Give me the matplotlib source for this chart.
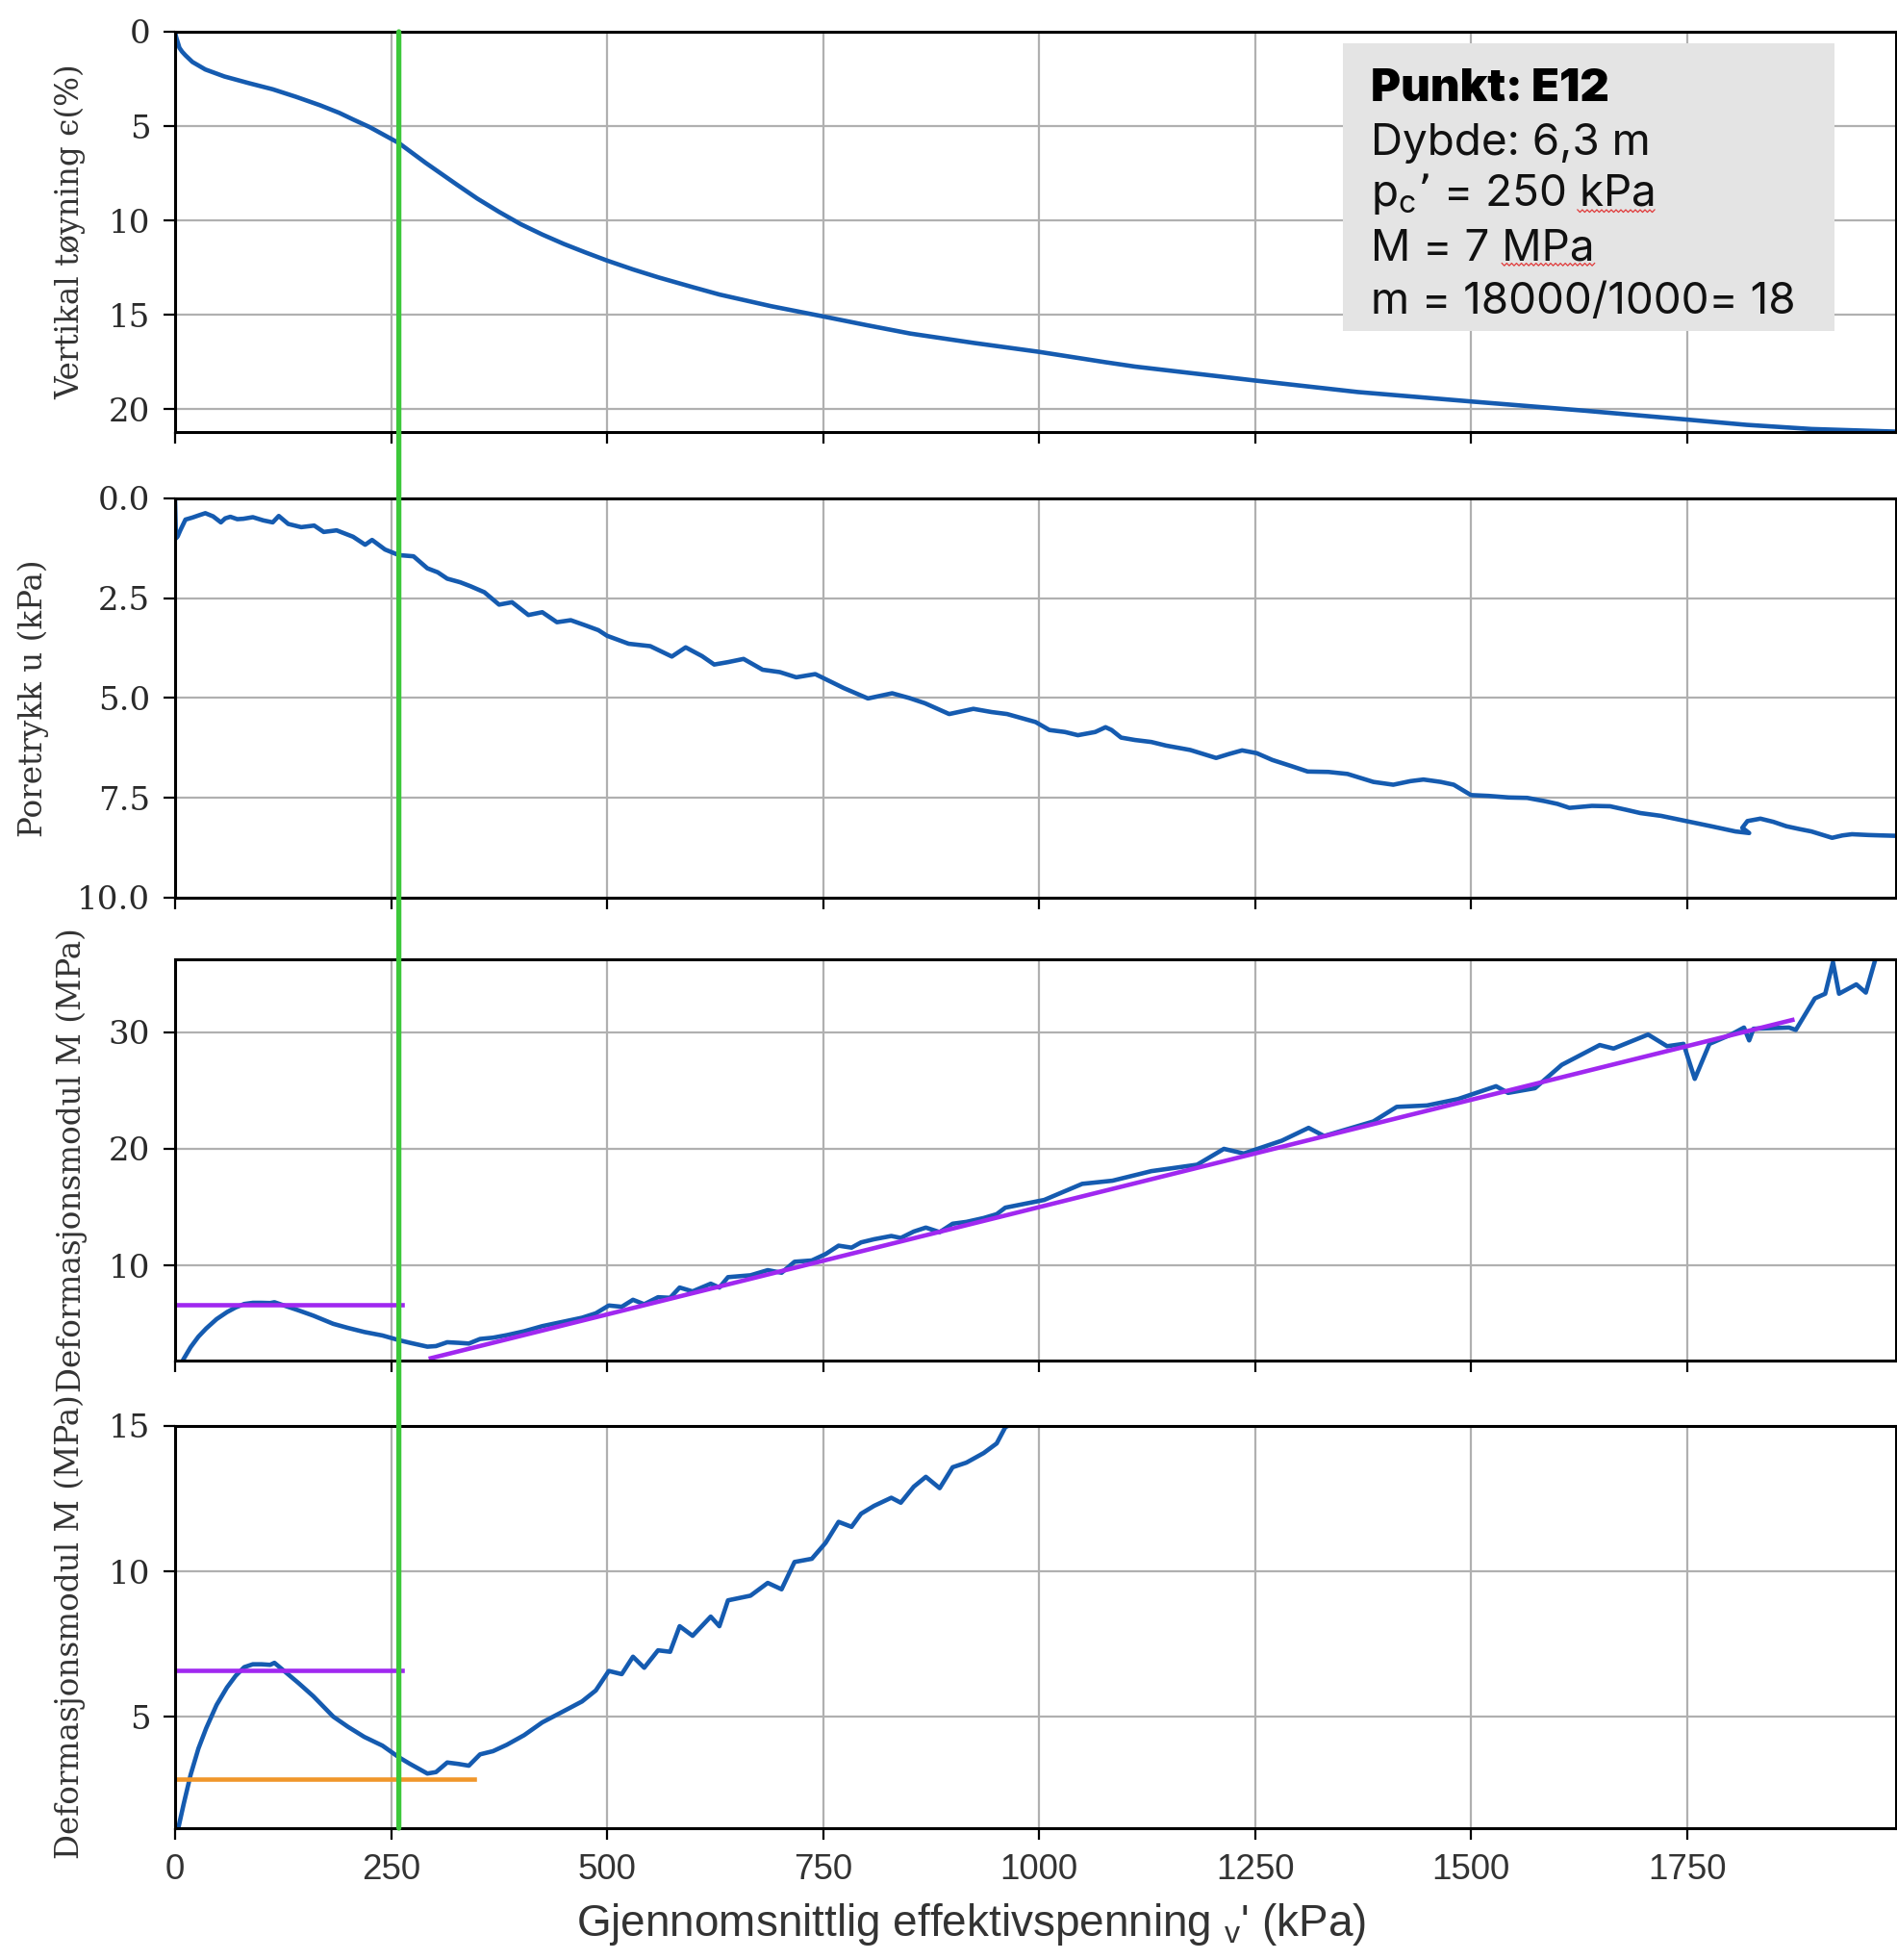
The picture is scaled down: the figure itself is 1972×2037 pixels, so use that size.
import numpy as np
import matplotlib
matplotlib.use("Agg")
import matplotlib.pyplot as plt
from matplotlib.patches import Rectangle, ConnectionPatch
from matplotlib.lines import Line2D
from matplotlib.ticker import FormatStrFormatter

plt.rcParams["mathtext.default"] = "regular"

# ---- Oedometer test E12: vertical strain vs effective stress ----
eps_sigma = [0, 1, 3, 5, 8, 12, 20, 35, 57, 85, 113, 140, 168, 190, 206, 225,
             243, 259, 290, 326, 350, 375, 400, 425, 450, 475, 500, 530, 560,
             600, 630, 690, 750, 800, 851, 925, 1000, 1077, 1111, 1250, 1369,
             1500, 1632, 1750, 1819, 1894, 1992]
eps_values = [0.0, 0.25, 0.55, 0.85, 1.05, 1.25, 1.6, 2.0, 2.37, 2.72, 3.05,
              3.45, 3.9, 4.3, 4.65, 5.05, 5.5, 5.9, 6.95, 8.1, 8.85, 9.55,
              10.2, 10.75, 11.25, 11.7, 12.13, 12.6, 13.03, 13.55, 13.93,
              14.55, 15.09, 15.55, 16.0, 16.5, 16.97, 17.52, 17.75, 18.49,
              19.1, 19.6, 20.09, 20.56, 20.84, 21.06, 21.2]

# ---- Pore pressure ----
u_sigma = [0, 1, 3, 6, 12, 20, 28, 35, 44, 53, 58, 64, 72, 79, 90, 102, 113,
           120, 131, 146, 161, 172, 187, 206, 220, 228, 243, 259, 276, 292,
           304, 315, 330, 342, 358, 375, 390, 409, 425, 442, 458, 475, 490,
           500, 525, 550, 575, 591, 610, 624, 640, 658, 680, 700, 719, 741,
           774, 802, 830, 850, 868, 896, 924, 945, 963, 996, 1012, 1030, 1045,
           1065, 1077, 1084, 1095, 1111, 1130, 1147, 1175, 1205, 1220, 1235,
           1252, 1270, 1293, 1311, 1335, 1357, 1387, 1410, 1430, 1445, 1465,
           1480, 1500, 1520, 1544, 1565, 1585, 1600, 1614, 1640, 1661, 1680,
           1696, 1720, 1749, 1778, 1806, 1822, 1814, 1820, 1835, 1850, 1865,
           1880, 1894, 1918, 1930, 1941, 1960, 1975, 1992]
u_values = [0.1, 1.0, 0.95, 0.8, 0.53, 0.48, 0.42, 0.37, 0.45, 0.6, 0.5,
            0.46, 0.52, 0.51, 0.47, 0.55, 0.6, 0.44, 0.64, 0.72, 0.68, 0.84,
            0.8, 0.96, 1.16, 1.04, 1.28, 1.42, 1.45, 1.75, 1.85, 2.01, 2.1,
            2.2, 2.35, 2.66, 2.6, 2.92, 2.85, 3.1, 3.05, 3.18, 3.3, 3.44,
            3.64, 3.7, 3.96, 3.73, 3.95, 4.16, 4.1, 4.02, 4.29, 4.35, 4.48,
            4.4, 4.75, 5.01, 4.88, 5.0, 5.13, 5.4, 5.27, 5.35, 5.4, 5.6, 5.8,
            5.85, 5.93, 5.85, 5.73, 5.8, 5.99, 6.05, 6.1, 6.19, 6.3, 6.5,
            6.4, 6.31, 6.38, 6.55, 6.71, 6.84, 6.85, 6.9, 7.1, 7.17, 7.08,
            7.04, 7.1, 7.17, 7.43, 7.45, 7.49, 7.5, 7.58, 7.65, 7.75, 7.7,
            7.71, 7.8, 7.88, 7.95, 8.08, 8.21, 8.34, 8.38, 8.25, 8.08, 8.02,
            8.1, 8.21, 8.28, 8.34, 8.5, 8.44, 8.41, 8.43, 8.44, 8.45]

# ---- Constrained modulus M ----
M_sigma = [4, 10, 18, 27, 36, 48, 60, 70, 80, 90, 100, 110, 115, 125, 143,
           160, 183, 200, 219, 240, 259, 272, 292, 302, 315, 328, 340, 353,
           368, 384, 404, 425, 450, 471, 487, 502, 517, 530, 543, 559, 573,
           584, 599, 620, 630, 640, 666, 686, 702, 717, 737, 753, 768, 783,
           794, 809, 829, 840, 855, 869, 885, 900, 916, 936, 951, 961, 1006,
           1050, 1085, 1130, 1183, 1214, 1237, 1281, 1312, 1330, 1387, 1414,
           1449, 1485, 1529, 1543, 1574, 1605, 1649, 1665, 1705, 1727, 1746,
           1759, 1776, 1801, 1816, 1822, 1827, 1868, 1876, 1898, 1910, 1919,
           1926, 1946, 1957, 1969, 1975]
M_values = [1.2, 2.0, 3.0, 3.9, 4.6, 5.4, 6.0, 6.4, 6.7, 6.8, 6.8, 6.78,
            6.85, 6.6, 6.15, 5.7, 5.0, 4.65, 4.3, 4.0, 3.6, 3.37, 3.04, 3.09,
            3.42, 3.37, 3.31, 3.7, 3.81, 4.03, 4.36, 4.8, 5.19, 5.52, 5.9,
            6.57, 6.46, 7.06, 6.68, 7.28, 7.23, 8.11, 7.78, 8.44, 8.11, 9.0,
            9.16, 9.6, 9.38, 10.32, 10.43, 10.98, 11.7, 11.53, 11.98, 12.25,
            12.53, 12.36, 12.91, 13.25, 12.86, 13.58, 13.74, 14.07, 14.4,
            14.96, 15.62, 17.0, 17.27, 18.09, 18.64, 20.0, 19.6, 20.7, 21.8,
            21.1, 22.35, 23.6, 23.72, 24.27, 25.37, 24.8, 25.2, 27.2, 28.9,
            28.6, 29.8, 28.8, 29.0, 26.0, 29.0, 29.8, 30.4, 29.3, 30.3, 30.4,
            30.2, 32.9, 33.3, 36.0, 33.3, 34.1, 33.4, 36.5, 38.0]

# Interpretation lines
pc_stress = 259                 # preconsolidation stress (kPa)
M_oc = 6.6                      # modulus in the overconsolidated range (MPa)
M_oc_sigma = [0, 263]
M_min = 2.85                    # minimum modulus (MPa)
M_min_sigma = [0, 346]
m_fit_sigma = [296, 1872]       # linear modulus fit, m = 18
m_fit_M = [2.05, 31.05]

x_ticks = [0, 250, 500, 750, 1000, 1250, 1500, 1750]
eps_ticks = [0, 5, 10, 15, 20]
u_ticks = [0.0, 2.5, 5.0, 7.5, 10.0]
M_ticks_top = [10, 20, 30]
M_ticks_bottom = [5, 10, 15]

info_title = "Punkt: E12"
info_lines = ["Dybde: 6,3 m", "p$_{c}$\u2019 = 250 kPa", "M = 7 MPa",
              "m = 18000/1000= 18"]
flagged_words = {1: "kPa", 2: "MPa"}   # words carrying a spell-check squiggle

BLUE = "#155bb0"
GREEN = "#3cc83a"
PURPLE = "#a028f0"
ORANGE = "#f0962a"
GRID = "#b0b0b0"
TXT = "#333333"
LW = 3.3
INFO_SIZE = 33

fig = plt.figure(figsize=(19.72, 20.37), dpi=100)
left, width = 0.0923, 0.9072
boxes = [(0.77958, 0.20422), (0.54198, 0.20373), (0.30584, 0.20471),
         (0.06726, 0.20520)]
axes = [fig.add_axes([left, b, width, h]) for b, h in boxes]
ax1, ax2, ax3, ax4 = axes

for ax in axes:
    ax.set_xlim(0, 1992)
    ax.set_xticks(x_ticks)
    ax.set_axisbelow(True)
    ax.grid(True, color=GRID, lw=1.6)
    for s in ax.spines.values():
        s.set_linewidth(2.2)
        s.set_color("black")
    ax.tick_params(direction="out", length=8.5, width=1.6, color="black",
                   pad=10, labelcolor="#2a2a2a")

for ax in axes[:3]:
    ax.tick_params(axis="x", labelbottom=False)

# Panel 1: strain
ax1.plot(eps_sigma, eps_values, color=BLUE, lw=LW)
ax1.set_ylim(21.22, 0)
ax1.set_yticks(eps_ticks)

# Panel 2: pore pressure
ax2.plot(u_sigma, u_values, color=BLUE, lw=LW)
ax2.set_ylim(10, 0)
ax2.set_yticks(u_ticks)
ax2.yaxis.set_major_formatter(FormatStrFormatter("%.1f"))

# Panel 3: modulus, full range
ax3.plot(M_sigma, M_values, color=BLUE, lw=LW)
ax3.plot(M_oc_sigma, [M_oc, M_oc], color=PURPLE, lw=LW)
ax3.plot(m_fit_sigma, m_fit_M, color=PURPLE, lw=LW)
ax3.set_ylim(1.85, 36.25)
ax3.set_yticks(M_ticks_top)

# Panel 4: modulus, zoomed
ax4.plot(M_sigma, M_values, color=BLUE, lw=LW)
ax4.plot(M_oc_sigma, [M_oc, M_oc], color=PURPLE, lw=LW)
ax4.plot(M_min_sigma, [M_min, M_min], color=ORANGE, lw=LW)
ax4.set_ylim(1.16, 15)
ax4.set_yticks(M_ticks_bottom)

for ax in axes:
    for lab in ax.get_yticklabels():
        lab.set_family("DejaVu Serif")
        lab.set_fontsize(24.5)
for lab in ax4.get_xticklabels():
    lab.set_family("Liberation Sans")
    lab.set_fontsize(26.5)
    lab.set_color("#333333")

ylabel_kw = dict(family="DejaVu Serif", fontsize=23.5, color=TXT)
ax1.set_ylabel("Vertikal tøyning ϵ(%)", **ylabel_kw)
ax2.set_ylabel("Poretrykk u (kPa)", **ylabel_kw)
ax3.set_ylabel("Deformasjonsmodul M (MPa)", **ylabel_kw)
ax4.set_ylabel("Deformasjonsmodul M (MPa)", **ylabel_kw)
ax1.yaxis.set_label_coords(-0.052, 0.5)
ax2.yaxis.set_label_coords(-0.073, 0.5)
ax3.yaxis.set_label_coords(-0.051, 0.5)
ax4.yaxis.set_label_coords(-0.052, 0.5)

ax4.set_xlabel("Gjennomsnittlig effektivspenning $_{v}$' (kPa)",
               family="Liberation Sans", fontsize=33, color=TXT)
ax4.xaxis.set_label_coords(0.4625, -0.183)

# Preconsolidation stress marker across all panels
con = ConnectionPatch(xyA=(pc_stress, 0), coordsA=ax1.transData,
                      xyB=(pc_stress, 1.16), coordsB=ax4.transData,
                      color=GREEN, lw=3.8, zorder=10)
fig.add_artist(con)

# Info box
ax1.add_patch(Rectangle((0.6786, 0.2524), 0.2856, 0.7188,
                        transform=ax1.transAxes, facecolor="#e4e4e4",
                        edgecolor="none", zorder=5))
tx = 0.6948
ax1.text(tx, 0.827, info_title, transform=ax1.transAxes, family="Inter",
         fontsize=34, fontweight="black", color="black", va="baseline",
         zorder=6)
line_kw = dict(transform=ax1.transAxes, family="Inter", fontsize=INFO_SIZE,
               color="#111111", va="baseline", zorder=6)
line_texts = []
for yb, line in zip([0.6935, 0.565, 0.428, 0.296], info_lines):
    line_texts.append(ax1.text(tx, yb, line, **line_kw))

# Red wavy underline below the flagged words at the end of a line
fig.canvas.draw()
renderer = fig.canvas.get_renderer()
for idx, word in flagged_words.items():
    t = line_texts[idx]
    bb = t.get_window_extent(renderer)
    probe = ax1.text(0, 0, word, family="Inter", fontsize=INFO_SIZE)
    wbb = probe.get_window_extent(renderer)
    probe.remove()
    x0, x1 = bb.x1 - wbb.width, bb.x1
    base_y = bb.y0 + 0.55 * (bb.height * 0.22)
    n = int((x1 - x0) / 2.5)
    xs = np.linspace(x0, x1, n + 1)
    ys = base_y + np.where(np.arange(n + 1) % 2 == 0, 1.3, -1.3)
    pts = fig.transFigure.inverted().transform(np.column_stack([xs, ys]))
    fig.add_artist(Line2D(pts[:, 0], pts[:, 1], color="#e03a3a", lw=0.9,
                          transform=fig.transFigure, zorder=7))

fig.savefig("out.png", dpi=100)
